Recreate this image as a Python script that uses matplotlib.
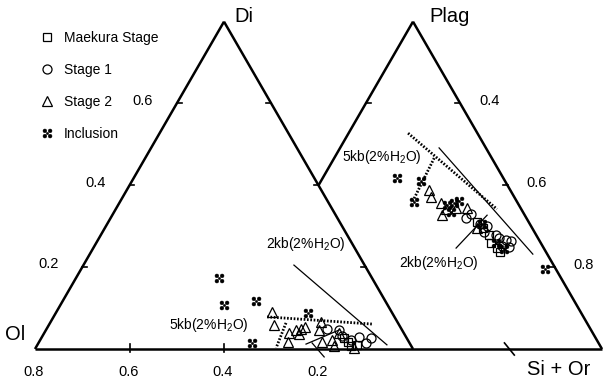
import numpy as np
import matplotlib.pyplot as plt
from matplotlib.path import Path

plt.rcParams['font.family'] = ['Liberation Sans', 'DejaVu Sans']
plt.rcParams['mathtext.fontset'] = 'custom'
plt.rcParams['mathtext.rm'] = 'Liberation Sans'
plt.rcParams['mathtext.it'] = 'Liberation Sans:italic'
plt.rcParams['mathtext.bf'] = 'Liberation Sans:bold'

# --- projected compositions (x along the base, y up; 1 = side of a triangle) ---
maekura_x = [0.817, 0.828, 0.836, 0.852, 1.169, 1.185, 1.201, 1.206, 1.222, 1.230]
maekura_y = [0.029, 0.019, 0.008, 0.011, 0.336, 0.320, 0.302, 0.280, 0.267, 0.257]

stage1_x = [0.772, 0.804, 0.812, 0.836, 0.857, 0.876, 0.889,
            1.140, 1.153, 1.177, 1.188, 1.196, 1.220, 1.228, 1.235, 1.246, 1.254, 1.259]
stage1_y = [0.053, 0.050, 0.034, 0.024, 0.032, 0.016, 0.029,
            0.347, 0.357, 0.331, 0.310, 0.325, 0.302, 0.294, 0.272, 0.288, 0.270, 0.286]

stage2_x = [0.627, 0.632, 0.669, 0.672, 0.690, 0.698, 0.704, 0.714, 0.751, 0.757, 0.759,
            0.786, 0.791, 0.804, 0.844,
            1.042, 1.048, 1.074, 1.077, 1.087, 1.114, 1.143, 1.169]
stage2_y = [0.098, 0.063, 0.019, 0.042, 0.050, 0.040, 0.053, 0.058, 0.050, 0.071, 0.019,
            0.024, 0.008, 0.042, 0.003,
            0.421, 0.402, 0.386, 0.354, 0.370, 0.373, 0.373, 0.320]

inclusion_x = [0.487, 0.500, 0.574, 0.585, 0.722,
               0.958, 1.003, 1.021, 1.090, 1.101, 1.108, 1.122, 1.183, 1.220, 1.241, 1.349]
inclusion_y = [0.188, 0.116, 0.016, 0.127, 0.095,
               0.452, 0.389, 0.444, 0.381, 0.362, 0.386, 0.392, 0.331, 0.280, 0.265, 0.212]

# cotectic boundaries: 5 kb dotted, 2 kb solid
cotectic_5kb = [((0.614, 0.085), (0.892, 0.066)),
                ((0.664, 0.069), (0.638, 0.003)),
                ((0.987, 0.571), (1.222, 0.370)),
                ((1.056, 0.505), (0.997, 0.386))]
cotectic_2kb = [((0.685, 0.222), (0.931, 0.011)),
                ((0.717, 0.013), (0.804, 0.050)),
                ((0.733, 0.016), (0.765, -0.021)),
                ((1.069, 0.532), (1.317, 0.251)),
                ((1.114, 0.267), (1.196, 0.354))]

line_labels = [('5kb(2%H$_2$O)', 0.460, 0.063),
               ('2kb(2%H$_2$O)', 0.717, 0.278),
               ('5kb(2%H$_2$O)', 0.918, 0.508),
               ('2kb(2%H$_2$O)', 1.069, 0.228)]

left_edge_labels = ['0.2', '0.4', '0.6']
right_edge_labels = ['0.4', '0.6', '0.8']
base_labels = ['0.8', '0.6', '0.4', '0.2']

H = np.sqrt(3) / 2
ol = np.array([0.0, 0.0])
di = np.array([0.5, H])
mid = np.array([1.0, 0.0])
plag = np.array([1.0, H])
sior = np.array([1.5, 0.0])
cross = np.array([0.75, H / 2])

# inclusion symbol: four blobs on the diagonals
blobs = [Path.circle((dx, dy), 0.36) for dx in (-0.5, 0.5) for dy in (-0.5, 0.5)]
blobs.append(Path.circle((0, 0), 0.22))
incl_marker = Path.make_compound_path(*blobs)

fig = plt.figure(figsize=(6.03, 3.85), dpi=100)
ax = fig.add_axes([0, 0, 1, 1])
ax.set_xlim(-35 / 378, 568 / 378)
ax.set_ylim(-36 / 378, 349 / 378)
ax.set_axis_off()

edge_kw = dict(color='black', lw=1.8, solid_capstyle='butt', zorder=2)
for a, b in [(ol, di), (di, mid), (cross, plag), (plag, sior), (ol, sior)]:
    ax.plot([a[0], b[0]], [a[1], b[1]], **edge_kw)

# small ticks on the edges
tl = 0.013
fr = [0.25, 0.5, 0.75]
for f in fr:
    p = ol + f * (di - ol)
    ax.plot([p[0], p[0] + tl], [p[1], p[1]], color='black', lw=1.2)
    p = di + f * (mid - di)
    ax.plot([p[0], p[0] - tl], [p[1], p[1]], color='black', lw=1.2)
    p = plag + f * (sior - plag)
    ax.plot([p[0], p[0] - tl], [p[1], p[1]], color='black', lw=1.2)
p = plag + 0.25 * (np.array([0.5, 0.0]) - plag)
ax.plot([p[0], p[0] + tl], [p[1], p[1]], color='black', lw=1.2)
for xb in [0.25, 0.5]:
    ax.plot([xb, xb], [-0.008, 0.012], color='black', lw=1.2)
ax.plot([1.242, 1.268], [0.016, -0.016], color='black', lw=1.2)

for lab, f in zip(left_edge_labels, fr):
    p = ol + f * (di - ol)
    ax.annotate(lab, p, xytext=(-24.5, 2), textcoords='offset points',
                ha='center', va='center', fontsize=10.5)
for lab, f in zip(right_edge_labels, fr):
    p = plag + f * (sior - plag)
    ax.annotate(lab, p, xytext=(21, 1.5), textcoords='offset points',
                ha='center', va='center', fontsize=10.5)
for lab, xb in zip(base_labels, [0.0, 0.25, 0.5, 0.75]):
    ax.annotate(lab, (xb, 0), xytext=(-1, -16.5), textcoords='offset points',
                ha='center', va='center', fontsize=10.5)

# vertex names
ax.annotate('Di', di, xytext=(14, 3.5), textcoords='offset points', ha='center', va='center', fontsize=14.5)
ax.annotate('Plag', plag, xytext=(26, 3.5), textcoords='offset points', ha='center', va='center', fontsize=14.5)
ax.annotate('Ol', ol, xytext=(-14, 10.5), textcoords='offset points', ha='center', va='center', fontsize=14.5)
ax.annotate('Si + Or', sior, xytext=(-31, -15), textcoords='offset points', ha='center', va='center', fontsize=14.5)

for (a, b) in cotectic_5kb:
    ax.plot([a[0], b[0]], [a[1], b[1]], color='black', lw=2.0,
            dashes=(0.6, 0.6), dash_capstyle='butt', zorder=3)
for (a, b) in cotectic_2kb:
    ax.plot([a[0], b[0]], [a[1], b[1]], color='black', lw=0.9, zorder=3)

for txt, x, y in line_labels:
    ax.text(x, y, txt, ha='center', va='center', fontsize=10)

mk = dict(ls='none', mec='black', mfc='none', mew=0.9, zorder=4)
ax.plot(maekura_x, maekura_y, marker='s', ms=5.5, label='Maekura Stage', **mk)
ax.plot(stage1_x, stage1_y, marker='o', ms=6.5, label='Stage 1', **mk)
ax.plot(stage2_x, stage2_y, marker='^', ms=6.5, label='Stage 2', **mk)
ax.plot(inclusion_x, inclusion_y, ls='none', marker=incl_marker, ms=6.5, mfc='black',
        mec='black', mew=0.3, label='Inclusion', zorder=5)

ax.legend(loc='upper left', bbox_to_anchor=(40 / 603, 1 - 31 / 385), frameon=False,
          fontsize=10, handlelength=1.0, handletextpad=0.7, labelspacing=1.3,
          borderpad=0, borderaxespad=0, markerscale=1.0)

fig.savefig('out.png', dpi=100)
